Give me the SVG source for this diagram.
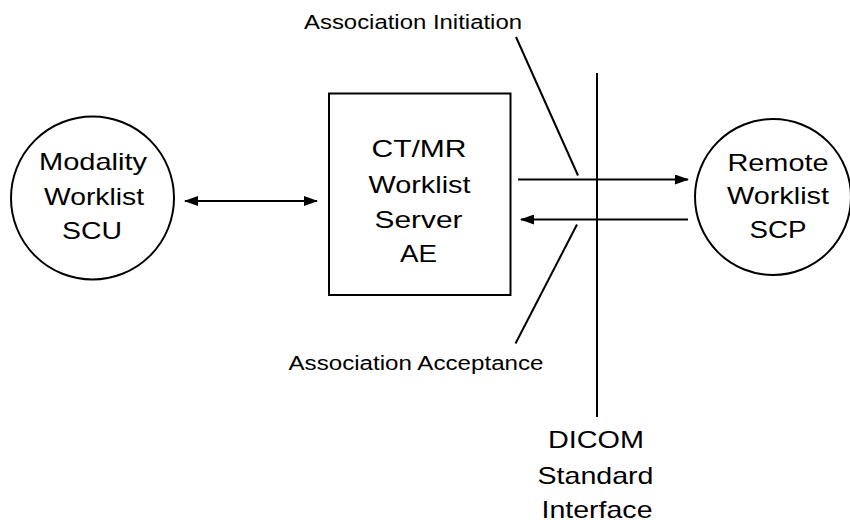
<svg xmlns="http://www.w3.org/2000/svg" width="850" height="520" viewBox="0 0 850 520">
<style>
.shape{fill:#fff;stroke:#000;stroke-width:2}
.ln{fill:none;stroke:#000;stroke-width:2}
.big{font-family:"Liberation Sans",Arial,sans-serif;font-size:24px;fill:#000;text-anchor:middle}
.small{font-family:"Liberation Sans",Arial,sans-serif;font-size:20px;fill:#000}
</style>
<defs>
<marker id="ah" viewBox="0 0 14 10" refX="13" refY="5" markerWidth="14" markerHeight="10" markerUnits="userSpaceOnUse" orient="auto-start-reverse">
<path d="M0,0 L14,5 L0,10 z" fill="#000"/>
</marker>
</defs>
<rect width="850" height="520" fill="#fff"/>
<g id="modality-scu">
<circle class="shape" cx="92.5" cy="198" r="81.5"/>
<text class="big" x="93" y="170" textLength="108" lengthAdjust="spacingAndGlyphs">Modality</text>
<text class="big" x="94" y="205" textLength="100" lengthAdjust="spacingAndGlyphs">Worklist</text>
<text class="big" x="92" y="239" textLength="60" lengthAdjust="spacingAndGlyphs">SCU</text>
</g>
<g id="worklist-server">
<rect class="shape" x="329" y="93.5" width="181.5" height="201.5"/>
<text class="big" x="419" y="157" textLength="95" lengthAdjust="spacingAndGlyphs">CT/MR</text>
<text class="big" x="419.5" y="192.5" textLength="102" lengthAdjust="spacingAndGlyphs">Worklist</text>
<text class="big" x="418.5" y="228" textLength="88" lengthAdjust="spacingAndGlyphs">Server</text>
<text class="big" x="418.5" y="261.5" textLength="37" lengthAdjust="spacingAndGlyphs">AE</text>
</g>
<g id="remote-scp">
<circle class="shape" cx="773" cy="197" r="78"/>
<text class="big" x="778" y="170.5" textLength="101" lengthAdjust="spacingAndGlyphs">Remote</text>
<text class="big" x="778" y="204" textLength="102" lengthAdjust="spacingAndGlyphs">Worklist</text>
<text class="big" x="778" y="238" textLength="57" lengthAdjust="spacingAndGlyphs">SCP</text>
</g>
<g id="dicom-interface">
<line class="ln" x1="597" y1="73" x2="597" y2="417"/>
<text class="big" x="596" y="448" textLength="96" lengthAdjust="spacingAndGlyphs">DICOM</text>
<text class="big" x="595.5" y="484" textLength="116" lengthAdjust="spacingAndGlyphs">Standard</text>
<text class="big" x="597" y="518" textLength="111" lengthAdjust="spacingAndGlyphs">Interface</text>
</g>
<g id="labels">
<text class="small" x="304" y="29" textLength="218" lengthAdjust="spacingAndGlyphs">Association Initiation</text>
<text class="small" x="288.5" y="370" textLength="255" lengthAdjust="spacingAndGlyphs">Association Acceptance</text>
</g>
<g id="connectors">
<line class="ln" x1="185" y1="201" x2="317" y2="201" marker-start="url(#ah)" marker-end="url(#ah)"/>
<line class="ln" x1="518" y1="179.5" x2="688" y2="179.5" marker-end="url(#ah)"/>
<line class="ln" x1="688" y1="219.5" x2="521" y2="219.5" marker-end="url(#ah)"/>
<line class="ln" x1="516" y1="37" x2="578" y2="175.5"/>
<line class="ln" x1="577" y1="224.5" x2="515.5" y2="343.5"/>
</g>
</svg>
